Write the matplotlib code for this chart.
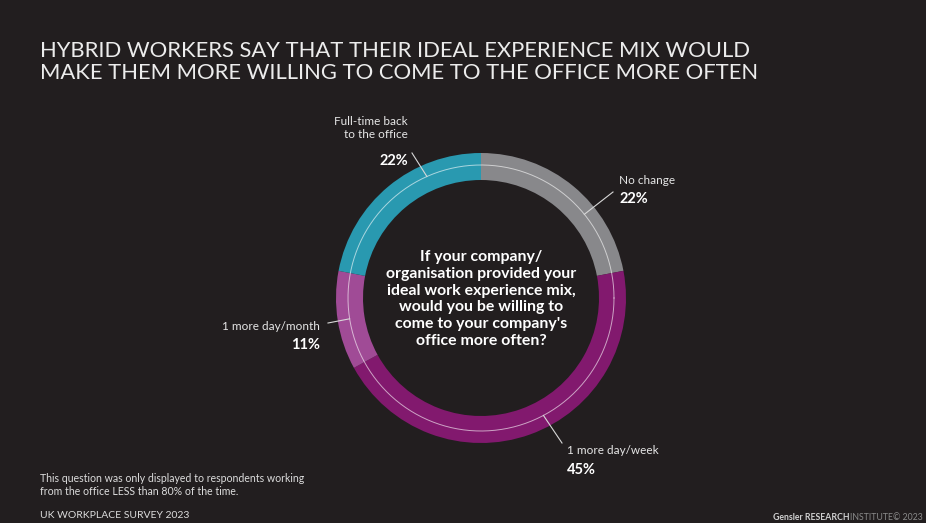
import matplotlib.pyplot as plt
import numpy as np

# ring data, clockwise from 12 o'clock
labels = ["No change", "1 more day/week", "1 more day/month", "Full-time back\nto the office"]
shares = [22, 45, 11, 22]
colors = ["#88888b", "#82196e", "#a04b96", "#2999b0"]

# where each leader line touches the ring (degrees, standard orientation)
leader_angles = [39, -62, -171, 114]
# leader outer end and label anchor (pixels)
leader_ends = [(613, 192), (562, 443), (328, 323), (412, 153)]
label_pos = [(619, 180), (567, 451), (320, 326), (408, 128)]
label_align = ["left", "left", "right", "right"]

title = ("HYBRID WORKERS SAY THAT THEIR IDEAL EXPERIENCE MIX WOULD\n"
         "MAKE THEM MORE WILLING TO COME TO THE OFFICE MORE OFTEN")
question = ("If your company/\norganisation provided your\nideal work experience mix,\n"
            "would you be willing to\ncome to your company's\noffice more often?")
footnote = ("This question was only displayed to respondents working\n"
            "from the office LESS than 80% of the time.")
survey = "UK WORKPLACE SURVEY 2023"

BG = "#221e1f"
CX, CY = 481, 298
R_OUT, WIDTH = 145, 27
R_LINE = 133

plt.rcParams["font.family"] = ["Lato", "DejaVu Sans"]

fig = plt.figure(figsize=(9.26, 5.23), dpi=100, facecolor=BG)
ax = fig.add_axes([0, 0, 1, 1])
ax.set_facecolor(BG)

# pie on an inverted y axis: counterclock=True draws clockwise on screen
ax.pie(shares, colors=colors, startangle=-90, counterclock=True,
       center=(CX, CY), radius=R_OUT, frame=True,
       wedgeprops=dict(width=WIDTH, linewidth=0))
ax.set_xlim(0, 926)
ax.set_ylim(523, 0)
ax.set_aspect("equal")
ax.axis("off")

t = np.linspace(0, 2 * np.pi, 400)
ax.plot(CX + R_LINE * np.cos(t), CY + R_LINE * np.sin(t),
        color="white", alpha=0.6, lw=0.7)

for lab, val, ang, end, pos, ha in zip(labels, shares, leader_angles,
                                        leader_ends, label_pos, label_align):
    a = np.radians(ang)
    x0, y0 = CX + R_LINE * np.cos(a), CY - R_LINE * np.sin(a)
    ax.plot([x0, end[0]], [y0, end[1]], color="#d8d8d8", lw=0.8)
    nlines = lab.count("\n") + 1
    ax.text(pos[0], pos[1], lab, ha=ha, va="center", color="#e6e6e6",
            fontsize=8.5, linespacing=1.25)
    ax.text(pos[0], pos[1] + 8 + 14 * nlines - 3, f"{val}%", ha=ha, va="center",
            color="white", fontsize=10.5, fontweight="bold")

ax.text(CX, 299, question, ha="center", va="center", color="white",
        fontsize=11.4, fontweight="bold", linespacing=1.27)

ax.text(40, 62, title, ha="left", va="center", color="#ececec",
        fontsize=15.8, fontweight="normal", linespacing=1.12)

ax.text(40, 485, footnote, ha="left", va="center", color="#dcdcdc",
        fontsize=7.6, linespacing=1.15)
ax.text(40, 516, survey, ha="left", va="center", color="#dcdcdc", fontsize=7.5)

ax.text(850, 517, "Gensler RESEARCH", ha="right", va="center",
        color="#d0d0d0", fontsize=6.3, fontweight="bold")
ax.text(850, 517, "INSTITUTE\u00a9 2023", ha="left", va="center",
        color="#8a8a8a", fontsize=6.3)

fig.savefig("out.png", dpi=100, facecolor=BG)
